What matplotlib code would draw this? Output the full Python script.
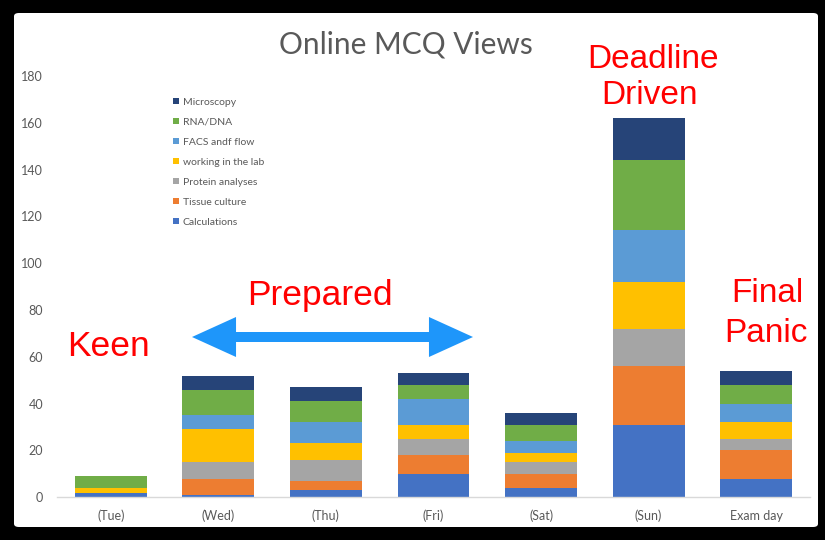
import matplotlib
matplotlib.use("Agg")
import matplotlib.pyplot as plt
import numpy as np
from matplotlib.patches import FancyBboxPatch, FancyArrowPatch

# Données
jours = ["(Tue)", "(Wed)", "(Thu)", "(Fri)", "(Sat)", "(Sun)", "Exam day"]
series = ["Calculations", "Tissue culture", "Protein analyses",
          "working in the lab", "FACS andf flow", "RNA/DNA", "Microscopy"]
calculations = [2, 1, 3, 10, 4, 31, 8]
tissue_culture = [0, 7, 4, 8, 6, 25, 12]
protein_analyses = [0, 7, 9, 7, 5, 16, 5]
working_lab = [2, 14, 7, 6, 4, 20, 7]
facs_flow = [0, 6, 9, 11, 5, 22, 8]
rna_dna = [5, 11, 9, 6, 7, 30, 8]
microscopy = [0, 6, 6, 5, 5, 18, 6]
valeurs = [calculations, tissue_culture, protein_analyses, working_lab,
           facs_flow, rna_dna, microscopy]
couleurs = ["#4472C4", "#ED7D31", "#A5A5A5", "#FFC000",
            "#5B9BD5", "#70AD47", "#264478"]

W, H = 825, 540
fig = plt.figure(figsize=(W / 100, H / 100), dpi=100, facecolor="black")

# Fond blanc de la diapositive
fond = FancyBboxPatch((14 / W, 13 / H), (818 - 14) / W, (527 - 13) / H,
                      boxstyle="round,pad=0,rounding_size=0.006",
                      transform=fig.transFigure, facecolor="white",
                      edgecolor="none", zorder=-5)
fig.patches.append(fond)

ax = fig.add_axes([57 / W, (H - 497.3) / H, (810 - 57) / W, (497.3 - 76) / H])
ax.patch.set_alpha(0)
ax.set_zorder(1)

x = np.arange(len(jours))
bas = np.zeros(len(jours))
barres = []
for nom, v, c in zip(series, valeurs, couleurs):
    b = ax.bar(x, v, width=0.667, bottom=bas, color=c, label=nom, zorder=2)
    barres.append(b)
    bas += np.array(v)

ax.set_xlim(-0.5, len(jours) - 0.5)
ax.set_ylim(0, 180)
ax.set_yticks(range(0, 181, 20))
ax.set_xticks(x)
ax.set_xticklabels(jours)
for s in ["left", "right", "top"]:
    ax.spines[s].set_visible(False)
ax.spines["bottom"].set_color("#D9D9D9")
ax.spines["bottom"].set_linewidth(1)
ax.tick_params(axis="both", length=0, labelcolor="#595959", labelsize=9)
ax.tick_params(axis="y", pad=10)
ax.tick_params(axis="x", pad=9)
for t in ax.get_xticklabels() + ax.get_yticklabels():
    t.set_family("Lato")

fig.text(406 / W, 1 - 44 / H, "Online MCQ Views", ha="center", va="center",
         fontsize=21.5, color="#595959", family="Lato")

# Légende (ordre inversé comme dans Excel)
leg = fig.legend(barres[::-1], series[::-1], loc="upper left",
                 bbox_to_anchor=(173 / W, 1 - 98 / H), frameon=False,
                 prop={"family": "Lato", "size": 7.5}, labelcolor="#595959",
                 handlelength=0.55, handleheight=0.55, handletextpad=0.4,
                 labelspacing=1.05, borderpad=0, borderaxespad=0)
leg.set_zorder(3)

# Annotations
rouge = "#FF0000"
police = "Liberation Sans"
fig.text(67 / W, 1 - 356 / H, "Keen", color=rouge, fontsize=25.5,
         family=police, va="baseline", ha="left")
fig.text(247 / W, 1 - 305 / H, "Prepared", color=rouge, fontsize=25.5,
         family=police, va="baseline", ha="left")
fig.text(653 / W, 1 - 68.5 / H, "Deadline", color=rouge, fontsize=24,
         family=police, va="baseline", ha="center")
fig.text(650 / W, 1 - 104 / H, "Driven", color=rouge, fontsize=24,
         family=police, va="baseline", ha="center")
fig.text(767 / W, 1 - 302 / H, "Final", color=rouge, fontsize=24,
         family=police, va="baseline", ha="center")
fig.text(766 / W, 1 - 342 / H, "Panic", color=rouge, fontsize=24,
         family=police, va="baseline", ha="center")

# Double flèche bleue
bleu = "#1E96FA"
centre = (192 + 473) / 2
style = "simple,head_length=31.7,head_width=28.8,tail_width=7.2"
for depart, bout in [(centre + 4, 192), (centre - 4, 473)]:
    fl = FancyArrowPatch((depart / W, 1 - 337 / H), (bout / W, 1 - 337 / H),
                         arrowstyle=style, mutation_scale=1, color=bleu,
                         transform=fig.transFigure, shrinkA=0, shrinkB=0,
                         linewidth=0)
    fig.add_artist(fl)

plt.savefig("out.png", dpi=100, facecolor="black")
